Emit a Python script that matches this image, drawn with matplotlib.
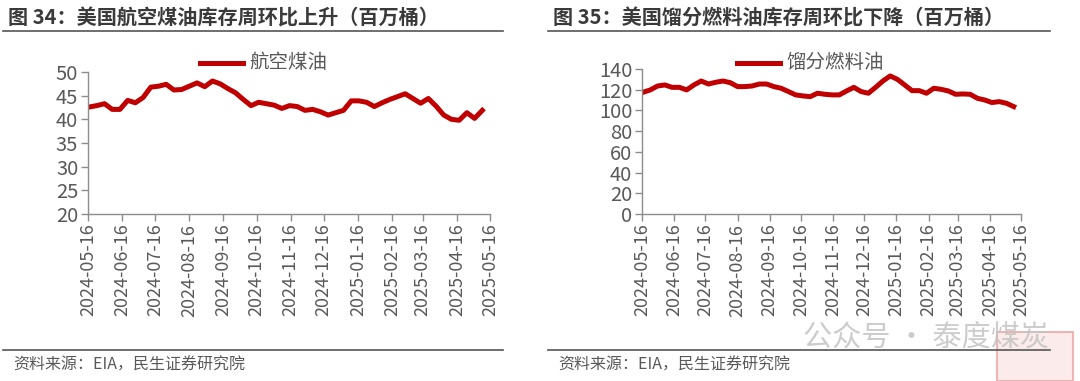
import numpy as np
import pandas as pd
import matplotlib
matplotlib.use("Agg")
import matplotlib.pyplot as plt
from matplotlib.lines import Line2D
from matplotlib.patches import Rectangle

plt.rcParams['font.family'] = ['Noto Sans CJK SC', 'DejaVu Sans']

# weekly data (EIA), million barrels
dates = pd.date_range("2024-05-17", "2025-05-09", freq="7D")
jet = [42.6, 42.9, 43.3, 42.1, 42.1, 44.0, 43.5, 44.6, 46.8, 47.0,
       47.4, 46.2, 46.3, 47.0, 47.7, 46.9, 48.1, 47.5, 46.5, 45.6,
       44.2, 42.9, 43.6, 43.3, 43.0, 42.3, 42.9, 42.7, 41.9, 42.1,
       41.6, 40.9, 41.4, 41.9, 43.9, 43.9, 43.6, 42.7, 43.5, 44.2,
       44.8, 45.4, 44.4, 43.4, 44.4, 42.8, 40.9, 40.0, 39.8, 41.4,
       40.2, 41.9]
dist = [117.5, 119.8, 123.6, 124.6, 122.3, 122.3, 119.8, 124.6, 128.4, 125.5,
        127.2, 128.4, 126.8, 123.0, 123.0, 123.6, 125.5, 125.5, 123.0, 121.4,
        118.2, 115.0, 114.0, 113.3, 116.6, 115.6, 115.0, 115.0, 118.8, 122.3,
        118.2, 116.6, 122.3, 128.4, 133.3, 130.0, 124.6, 119.1, 119.1, 116.6,
        121.4, 120.4, 118.8, 115.6, 115.9, 115.6, 111.7, 110.1, 107.6, 108.5,
        106.9, 103.7]

tick_dates = pd.date_range("2024-05-01", "2025-05-01", freq="MS") + pd.Timedelta(days=15)
tick_labels = [d.strftime("%Y-%m-%d") for d in tick_dates]

titles = ["图 34：美国航空煤油库存周环比上升（百万桶）", "图 35：美国馏分燃料油库存周环比下降（百万桶）"]
names = ["航空煤油", "馏分燃料油"]
source = "资料来源：EIA，民生证券研究院"

W, H = 1080, 381
fig = plt.figure(figsize=(W / 100, H / 100), dpi=100)
red = "#C00000"
gray = "#595959"

def px(x0, y0, x1, y1):
    return [x0 / W, 1 - y1 / H, (x1 - x0) / W, (y1 - y0) / H]

panels = [
    dict(box=(88, 72, 490, 214), ylim=(20, 50), yt=np.arange(20, 51, 5), data=jet,
         tx=8, lx0=3, lx1=503, leg=(200, 63)),
    dict(box=(642, 69, 1021, 214), ylim=(0, 140), yt=np.arange(0, 141, 20), data=dist,
         tx=553, lx0=548, lx1=1050, leg=(737, 63)),
]

for i, p in enumerate(panels):
    ax = fig.add_axes(px(*p["box"]))
    ax.plot(dates, p["data"], color=red, lw=3.6, solid_joinstyle="round")
    ax.set_xlim(tick_dates[0], tick_dates[-1])
    ax.set_ylim(*p["ylim"])
    ax.set_yticks(p["yt"])
    ax.set_xticks(tick_dates)
    ax.set_xticklabels(tick_labels, rotation=90)
    for s in ["top", "right"]:
        ax.spines[s].set_visible(False)
    for s in ["left", "bottom"]:
        ax.spines[s].set_color("#8c8c8c")
        ax.spines[s].set_linewidth(1.0)
    ax.tick_params(colors="#8c8c8c", labelcolor=gray, labelsize=13, length=5, width=1.0, pad=2)
    ax.tick_params(axis="y", labelsize=14.5)
    ax.patch.set_alpha(0)

    # legend drawn by hand at the reference position
    lx, ly = p["leg"]
    fig.add_artist(Line2D([lx / W, (lx + 43) / W], [1 - ly / H] * 2, color=red, lw=3.6))
    fig.text((lx + 49) / W, 1 - ly / H, names[i], fontsize=14, color=gray, va="center", ha="left")

    # header and footer
    fig.text(p["tx"] / W, 1 - 18 / H, titles[i], fontsize=14.5, fontweight="bold",
             color="#3a3a3a", va="center", ha="left")
    fig.add_artist(Line2D([p["lx0"] / W, p["lx1"] / W], [1 - 31 / H] * 2, color="#555555", lw=1.2))
    fig.add_artist(Line2D([p["lx0"] / W, p["lx1"] / W], [1 - 350 / H] * 2, color="#555555", lw=1.2))
    fig.text((p["tx"] + 5) / W, 1 - 365 / H, source, fontsize=11.5, color=gray, va="center", ha="left")

# watermark
fig.text(803 / W, 1 - 338 / H, "公众号 · 泰度煤炭", fontsize=21, color="#c4c4c4", alpha=0.85,
         va="center", ha="left")
fig.add_artist(Rectangle((997 / W, 0), 76 / W, 49 / H, transform=fig.transFigure,
                         facecolor="#fbe3e3", edgecolor="#e89a9a", lw=1.5, alpha=0.7))

fig.savefig("out.png", dpi=100)
